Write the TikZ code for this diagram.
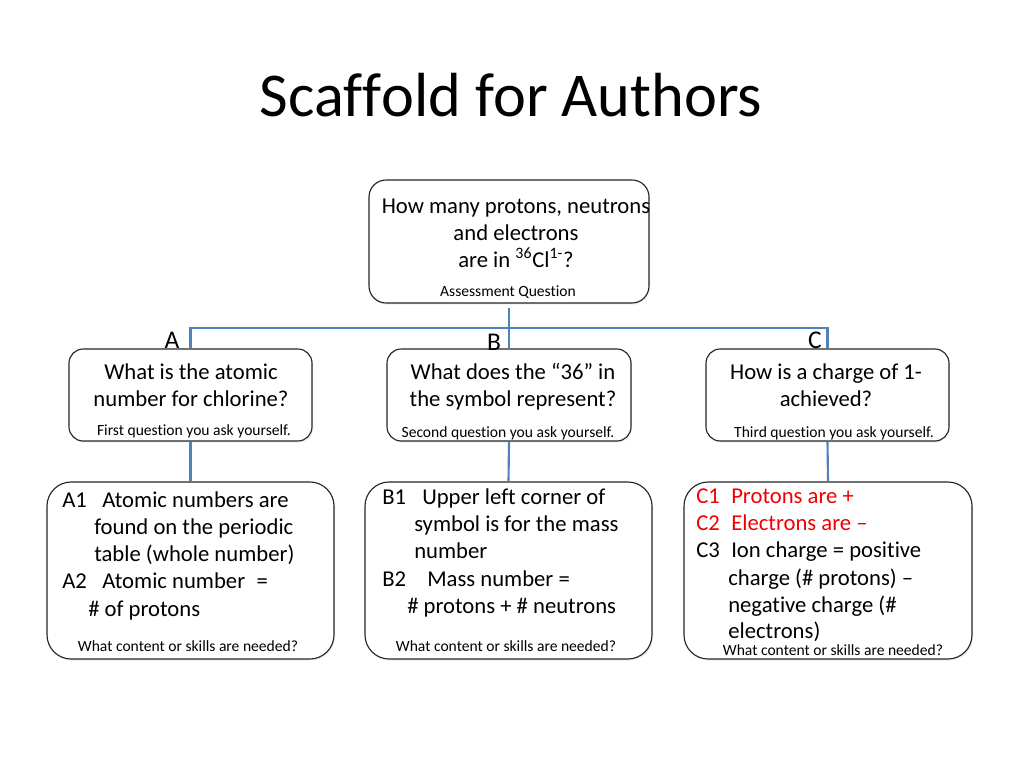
\documentclass[tikz,border=0pt]{standalone}
\usepackage{fontspec}
\setmainfont{Carlito}[Ligatures={NoCommon}]
\usetikzlibrary{shadows}
\definecolor{linkblue}{RGB}{79,129,189}
\definecolor{txtred}{RGB}{240,0,0}
\newdimen\pxunit \pxunit=0.70576pt
\newcommand\pxl[1]{#1*0.70576pt}
\newcommand\lab[2]{\makebox[#1\pxunit][l]{#2}}
\begin{document}
\begin{tikzpicture}[x=0.70576pt,y=-0.70576pt,
  box/.style={draw=black!85, line width=0.8pt, fill=white, inner sep=0pt,
    drop shadow={opacity=0.12, shadow xshift=0.8pt, shadow yshift=-1.2pt}},
  conn/.style={draw=linkblue, line width=1.5pt},
  main/.style={font=\fontsize{16}{19.5}\selectfont, inner sep=0pt, anchor=base},
  mainl/.style={main, anchor=base west},
  small/.style={font=\fontsize{11}{13}\selectfont, inner sep=0pt, anchor=base},
  lbl/.style={font=\fontsize{18}{21}\selectfont, inner sep=0pt, anchor=base}]
\useasboundingbox[fill=white] (0,0) rectangle (1024,768);

% title
\node[font=\fontsize{44}{52}\selectfont, inner sep=0pt, anchor=base] (title) at (511,117) {Scaf\kern0ptf\kern0ptold for Authors};

% boxes
\node[box, rounded corners=12pt, minimum width=\pxl{280}, minimum height=\pxl{123}] (top) at (509,241.5) {};
\node[box, rounded corners=10pt, minimum width=\pxl{243}, minimum height=\pxl{92}] (A) at (190.5,395) {};
\node[box, rounded corners=10pt, minimum width=\pxl{244}, minimum height=\pxl{92}] (B) at (509,395) {};
\node[box, rounded corners=10pt, minimum width=\pxl{243}, minimum height=\pxl{92}] (C) at (827.5,395) {};
\node[box, rounded corners=17pt, minimum width=\pxl{287}, minimum height=\pxl{177}] (A1) at (190.5,570.5) {};
\node[box, rounded corners=17pt, minimum width=\pxl{287}, minimum height=\pxl{177}] (B1) at (508.5,570.5) {};
\node[box, rounded corners=17pt, minimum width=\pxl{288}, minimum height=\pxl{177}] (C1) at (828,570.5) {};

% connectors
\coordinate (hub) at (509,328);
\draw[conn] ([yshift=-3pt]top.south) -- (B.north);
\draw[conn] (A.north) -- (A.north |- hub) -- (C.north |- hub) -- (C.north);
\draw[conn] (A.south) -- (A1.north);
\draw[conn] (B.south) -- (B1.north);
\draw[conn] (C.south) -- (C1.north);

% branch labels
\node[lbl] (la) at (172,348) {A};
\node[lbl] (lb) at (494,350) {B};
\node[lbl] (lc) at (815,348) {C};

% top box text
\node[main] (q1) at (516,213) {How many protons, neutrons};
\node[main] (q2) at (516,240) {and electrons};
\node[main] (q3) at (516,267) {are in \textsuperscript{36}Cl\textsuperscript{1-}?};
\node[small] (q4) at (508,296) {Assessment Question};

% A box
\node[main] (a1) at (191,379) {What is the atomic};
\node[main] (a2) at (191,406) {number for chlorine?};
\node[small] (a3) at (194,435) {First question you ask yourself.};

% B box
\node[main] (b1) at (513,379) {What does the “36” in};
\node[main] (b2) at (513,406) {the symbol represent?};
\node[small] (b3) at (508,437) {Second question you ask yourself.};

% C box
\node[main] (c1) at (826,379) {How is a charge of 1-};
\node[main] (c2) at (826,406) {achieved?};
\node[small] (c3) at (834,437) {Third question you ask yourself.};

% A1 box
\node[mainl] (a11) at (62,507) {\lab{40}{A1}Atomic numbers are};
\node[mainl] (a12) at (94,534) {found on the periodic};
\node[mainl] (a13) at (94,561) {table (whole number)};
\node[mainl] (a14) at (62,588) {\lab{40}{A2}Atomic number\enspace=};
\node[mainl] (a15) at (88,616) {\# of protons};
\node[small] (a16) at (188,651) {What content or skills are needed?};

% B1 box
\node[mainl] (b11) at (382,504) {\lab{40}{B1}Upper lef\kern0ptt corner of};
\node[mainl] (b12) at (414,531) {symbol is for the mass};
\node[mainl] (b13) at (414,558) {number};
\node[mainl] (b14) at (382,586) {\lab{45}{B2}Mass number =};
\node[mainl] (b15) at (407,613) {\# protons + \# neutrons};
\node[small] (b16) at (506,651) {What content or skills are needed?};

% C1 box
\node[mainl, text=txtred] (c11) at (696,503) {\lab{35}{C1}Protons are +};
\node[mainl, text=txtred] (c12) at (696,530) {\lab{35}{C2}Electrons are –};
\node[mainl] (c13) at (696,557) {\lab{35}{C3}Ion charge = positive};
\node[mainl] (c14) at (728,585) {charge (\# protons) –};
\node[mainl] (c15) at (728,612) {negative charge (\#};
\node[mainl] (c16) at (728,638) {electrons)};
\node[small] (c17) at (833,655) {What content or skills are needed?};
\end{tikzpicture}
\end{document}
